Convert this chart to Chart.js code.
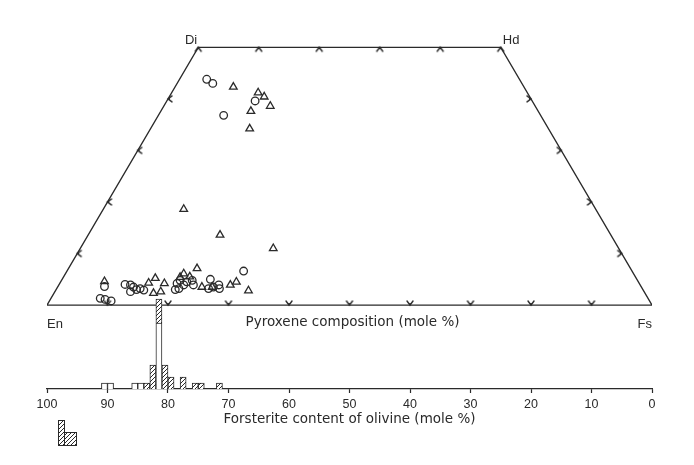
<!DOCTYPE html>
<html>
<head>
<meta charset="utf-8">
<script src="https://cdn.jsdelivr.net/npm/chart.js@4.4.0/dist/chart.umd.min.js"></script>
<style>
  html, body { margin: 0; padding: 0; background: #fff; }
  #wrap { width: 694px; height: 465px; }
</style>
</head>
<body>
<div id="wrap"><canvas id="chart"></canvas></div>
<script>
// pyroxene analyses: [position along En-Fs (En = 100), Wo mole %]
const pyxCircles = [
  [73.6, 43.8], [72.6, 43.0], [65.6, 39.6], [70.8, 36.8],
  [90.5, 3.6], [91.2, 1.3], [90.4, 1.1], [89.4, 0.8], [87.1, 4.0], [86.2, 3.9],
  [85.7, 3.5], [86.2, 2.6], [85.2, 3.0], [84.6, 3.2], [84.0, 2.9], [78.5, 4.2],
  [78.0, 4.8], [77.4, 3.9], [76.9, 4.5], [76.0, 4.8], [75.8, 3.9], [78.2, 3.2],
  [78.8, 3.0], [73.0, 5.0], [73.3, 3.2], [72.5, 3.5], [71.6, 3.9], [71.5, 3.2],
  [67.5, 6.6]
];
const pyxTriangles = [
  [69.2, 42.3], [65.1, 41.2], [64.1, 40.4], [63.1, 38.6], [66.3, 37.6], [66.5, 34.2],
  [77.4, 18.6], [71.4, 13.6], [62.6, 11.0],
  [90.5, 4.6], [83.2, 4.3], [82.1, 5.2], [82.4, 2.3], [81.2, 2.6], [80.6, 4.2],
  [77.4, 6.1], [75.2, 7.1], [78.0, 5.4], [76.4, 5.5], [74.4, 3.5], [72.7, 3.5],
  [69.7, 3.9], [68.7, 4.5], [66.7, 2.8]
];

// olivine histogram, 1 mole % bins
const binCentres  = [90.5, 89.5, 85.5, 84.5, 83.5, 82.5, 81.5, 80.5, 79.5, 77.5, 75.5, 74.5, 71.5];
const openCounts  = [1, 1, 1, 1, 0, 0, 11, 0, 0, 0, 0, 0, 0];
const hatchCounts = [0, 0, 0, 0, 1, 4, 4, 4, 2, 2, 1, 1, 1];

// quadrilateral
const corners = { En: [100, 0], Di: [75, 50], Hd: [25, 50], Fs: [0, 0] };
const sideTicksWo = [10, 20, 30, 40];
const topTicks = [75, 65, 55, 45, 35, 25];
const baseTicks = [90, 80, 70, 60, 50, 40, 30, 20, 10];

const ink = '#2a2a2a';
const font = '"Liberation Sans", Arial, sans-serif';
const wideFont = '"DejaVu Sans", Verdana, sans-serif';

// hatch pattern for the bars
const hatchCanvas = document.createElement('canvas');
hatchCanvas.width = 4; hatchCanvas.height = 4;
(function () {
  const c = hatchCanvas.getContext('2d');
  c.fillStyle = '#fff';
  c.fillRect(0, 0, 4, 4);
  c.strokeStyle = ink;
  c.lineWidth = 1;
  c.beginPath();
  c.moveTo(0, 4); c.lineTo(4, 0);
  c.moveTo(-1, 1); c.lineTo(1, -1);
  c.moveTo(3, 5); c.lineTo(5, 3);
  c.stroke();
})();
const hatch = hatchCanvas.getContext('2d').createPattern(hatchCanvas, 'repeat');

// small chevron used as tick mark on the quadrilateral edges
const chevron = document.createElement('canvas');
chevron.width = 12; chevron.height = 12;
(function () {
  const c = chevron.getContext('2d');
  c.strokeStyle = ink;
  c.lineWidth = 1.4;
  c.lineCap = 'round';
  c.beginPath();
  c.moveTo(3, 10); c.lineTo(6, 6); c.lineTo(9, 10);
  c.stroke();
})();

const toXY = p => ({ x: p[0], y: p[1] });

const labelPlugin = {
  id: 'quadLabels',
  afterDatasetsDraw(chart) {
    const { ctx, scales: { x, y }, chartArea } = chart;
    const px = p => [x.getPixelForValue(p[0]), y.getPixelForValue(p[1])];
    ctx.save();
    ctx.fillStyle = ink;
    ctx.font = '13px ' + font;
    ctx.textBaseline = 'alphabetic';

    let [cx, cy] = px(corners.Di);
    ctx.textAlign = 'right';
    ctx.fillText('Di', cx - 1, cy - 3);
    [cx, cy] = px(corners.Hd);
    ctx.textAlign = 'left';
    ctx.fillText('Hd', cx + 2, cy - 3);
    [cx, cy] = px(corners.En);
    ctx.fillText('En', cx, cy + 23);
    [cx, cy] = px(corners.Fs);
    ctx.textAlign = 'right';
    ctx.fillText('Fs', cx, cy + 23);

    ctx.textAlign = 'center';
    ctx.textBaseline = 'middle';
    ctx.font = '13.5px ' + wideFont;
    ctx.fillText('Pyroxene composition (mole %)', x.getPixelForValue(49.5), y.getPixelForValue(0) + 17);

    // fragment of a key in the lower left corner
    const kx = chartArea.left + 11, ky = chartArea.bottom + 31;
    ctx.fillStyle = hatch;
    ctx.strokeStyle = ink;
    ctx.lineWidth = 1;
    ctx.fillRect(kx, ky, 6, 25);
    ctx.strokeRect(kx + 0.5, ky + 0.5, 6, 25);
    ctx.fillRect(kx + 6, ky + 12, 12, 13);
    ctx.strokeRect(kx + 6.5, ky + 12.5, 12, 13);
    ctx.restore();
  }
};

const pointBase = {
  type: 'scatter',
  borderColor: ink,
  backgroundColor: 'rgba(0,0,0,0)',
  pointBorderWidth: 1.3,
  xAxisID: 'x',
  yAxisID: 'y'
};

const tickSet = (data, rot) => ({
  type: 'scatter',
  data: data,
  pointStyle: chevron,
  pointRotation: rot,
  pointRadius: 5,
  xAxisID: 'x',
  yAxisID: 'y'
});

new Chart(document.getElementById('chart'), {
  type: 'scatter',
  data: {
    datasets: [
      {
        type: 'bar',
        label: 'open',
        data: binCentres.map((b, i) => ({ x: b, y: openCounts[i] })),
        backgroundColor: '#fff',
        borderColor: ink,
        borderWidth: 1,
        grouped: false,
        barPercentage: 1,
        categoryPercentage: 1,
        xAxisID: 'x',
        yAxisID: 'y2'
      },
      {
        type: 'bar',
        label: 'hatched',
        data: binCentres.map((b, i) => ({ x: b, y: hatchCounts[i] })),
        backgroundColor: hatch,
        borderColor: ink,
        borderWidth: 1,
        grouped: false,
        barPercentage: 1,
        categoryPercentage: 1,
        xAxisID: 'x',
        yAxisID: 'y2'
      },
      Object.assign({ data: pyxCircles.map(toXY), pointStyle: 'circle', pointRadius: 3.8 }, pointBase),
      Object.assign({ data: pyxTriangles.map(toXY), pointStyle: 'triangle', pointRadius: 4.4 }, pointBase),
      tickSet(topTicks.map(v => ({ x: v, y: 50 })), 0),
      tickSet(baseTicks.map(v => ({ x: v, y: 0 })), 180),
      tickSet(sideTicksWo.map(w => ({ x: 100 - w / 2, y: w })), -90),
      tickSet(sideTicksWo.map(w => ({ x: w / 2, y: w })), 90),
      {
        type: 'line',
        label: 'quadrilateral',
        data: [corners.En, corners.Di, corners.Hd, corners.Fs, corners.En].map(toXY),
        borderColor: ink,
        borderWidth: 1.3,
        pointRadius: 0,
        fill: false,
        tension: 0,
        xAxisID: 'x',
        yAxisID: 'y'
      }
    ]
  },
  options: {
    responsive: true,
    maintainAspectRatio: false,
    animation: false,
    layout: { padding: { left: 47, right: 42, top: 37, bottom: 0 } },
    plugins: { legend: { display: false }, tooltip: { enabled: false } },
    scales: {
      x: {
        type: 'linear',
        reverse: true,
        offset: false,
        min: 0,
        max: 100,
        position: 'bottom',
        afterFit: s => { s.height = 76; },
        border: { color: ink, width: 1.2 },
        grid: { offset: false, drawOnChartArea: false, drawTicks: true, tickLength: 4, tickColor: ink, tickWidth: 1.2 },
        ticks: { stepSize: 10, padding: 4, color: ink, font: { family: font, size: 12.5 }, maxRotation: 0 },
        title: {
          display: true,
          text: 'Forsterite content of olivine (mole %)',
          color: ink,
          font: { family: wideFont, size: 13.5 },
          padding: { top: 0, bottom: 37 }
        }
      },
      y: { type: 'linear', display: false, min: -16.28, max: 52 },
      y2: { type: 'linear', display: false, min: 0, max: 58.67, stacked: true }
    }
  },
  plugins: [labelPlugin]
});
</script>
</body>
</html>
